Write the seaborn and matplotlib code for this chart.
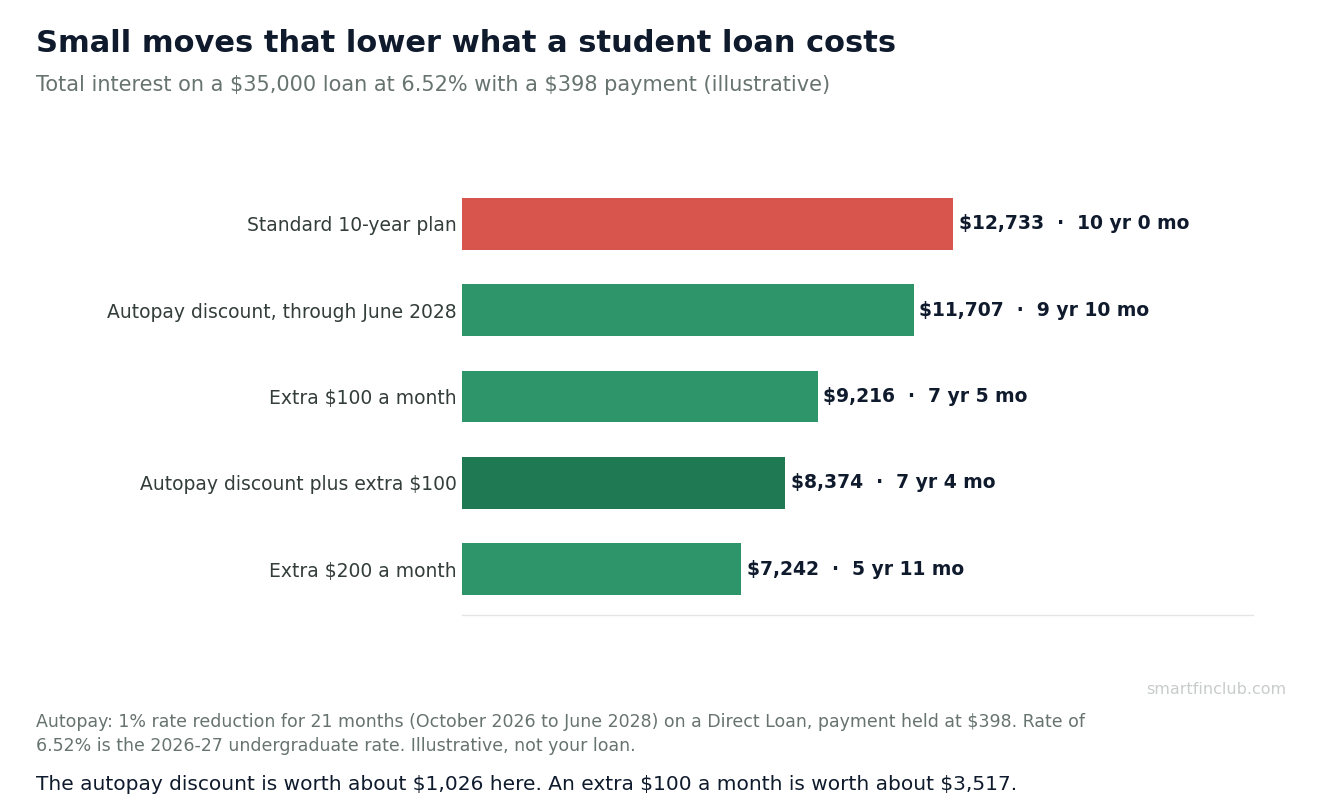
import pandas as pd
import seaborn as sns
import matplotlib.pyplot as plt

sns.set_theme(style="white")
plt.rcParams['font.family'] = ['DejaVu Sans']
plt.rcParams['text.parse_math'] = False

# dados do gráfico
plans = ["Standard 10-year plan", "Autopay discount, through June 2028",
         "Extra $100 a month", "Autopay discount plus extra $100",
         "Extra $200 a month"]
interest = [12733, 11707, 9216, 8374, 7242]
payoff = ["10 yr 0 mo", "9 yr 10 mo", "7 yr 5 mo", "7 yr 4 mo", "5 yr 11 mo"]
bar_colors = ["#D7554C", "#2E9469", "#2E9469", "#1F7A54", "#2E9469"]

df = pd.DataFrame({"plan": plans, "interest": interest, "payoff": payoff})

fig = plt.figure(figsize=(13.19, 8.09), dpi=100)
ax = fig.add_axes([0.3503, 0.2398, 0.5997, 0.5402])

sns.barplot(data=df, x="interest", y="plan", hue="plan", palette=bar_colors,
            legend=False, width=0.6, saturation=1, linewidth=0, ax=ax)

for i, row in df.iterrows():
    ax.annotate(f"${row['interest']:,}  ·  {row['payoff']}",
                xy=(row['interest'], i), xytext=(4, 0), textcoords="offset points",
                va="center", ha="left", fontsize=13.5, fontweight="bold",
                color="#0F1B2D")

ax.set_xlim(0, 20500)
ax.set_ylim(4.53, -0.53)
ax.set_xlabel("")
ax.set_ylabel("")
ax.set_xticks([])
ax.tick_params(axis="y", length=0, pad=4, labelsize=13.5, labelcolor="#333D3A")
for s in ["top", "right", "left"]:
    ax.spines[s].set_visible(False)
ax.spines["bottom"].set_color("#E3E6E5")
ax.spines["bottom"].set_linewidth(1)

fig.text(36/1319, 1-44/809, "Small moves that lower what a student loan costs",
         fontsize=22, fontweight="bold", color="#0F1B2D", va="center", ha="left")
fig.text(36/1319, 1-85/809,
         "Total interest on a $35,000 loan at 6.52% with a $398 payment (illustrative)",
         fontsize=15, color="#66736F", va="center", ha="left")
fig.text(1286/1319, 1-689/809, "smartfinclub.com", fontsize=11.5, color="#C8CCCB",
         va="center", ha="right")
fig.text(36/1319, 1-734/809,
         "Autopay: 1% rate reduction for 21 months (October 2026 to June 2028) on a Direct Loan, payment held at $398. Rate of\n"
         "6.52% is the 2026-27 undergraduate rate. Illustrative, not your loan.",
         fontsize=12.5, color="#66736F", va="center", ha="left", linespacing=1.45)
fig.text(36/1319, 1-784/809,
         "The autopay discount is worth about $1,026 here. An extra $100 a month is worth about $3,517.",
         fontsize=14.5, color="#0F1B2D", va="center", ha="left")

plt.savefig("out.png", dpi=100)
